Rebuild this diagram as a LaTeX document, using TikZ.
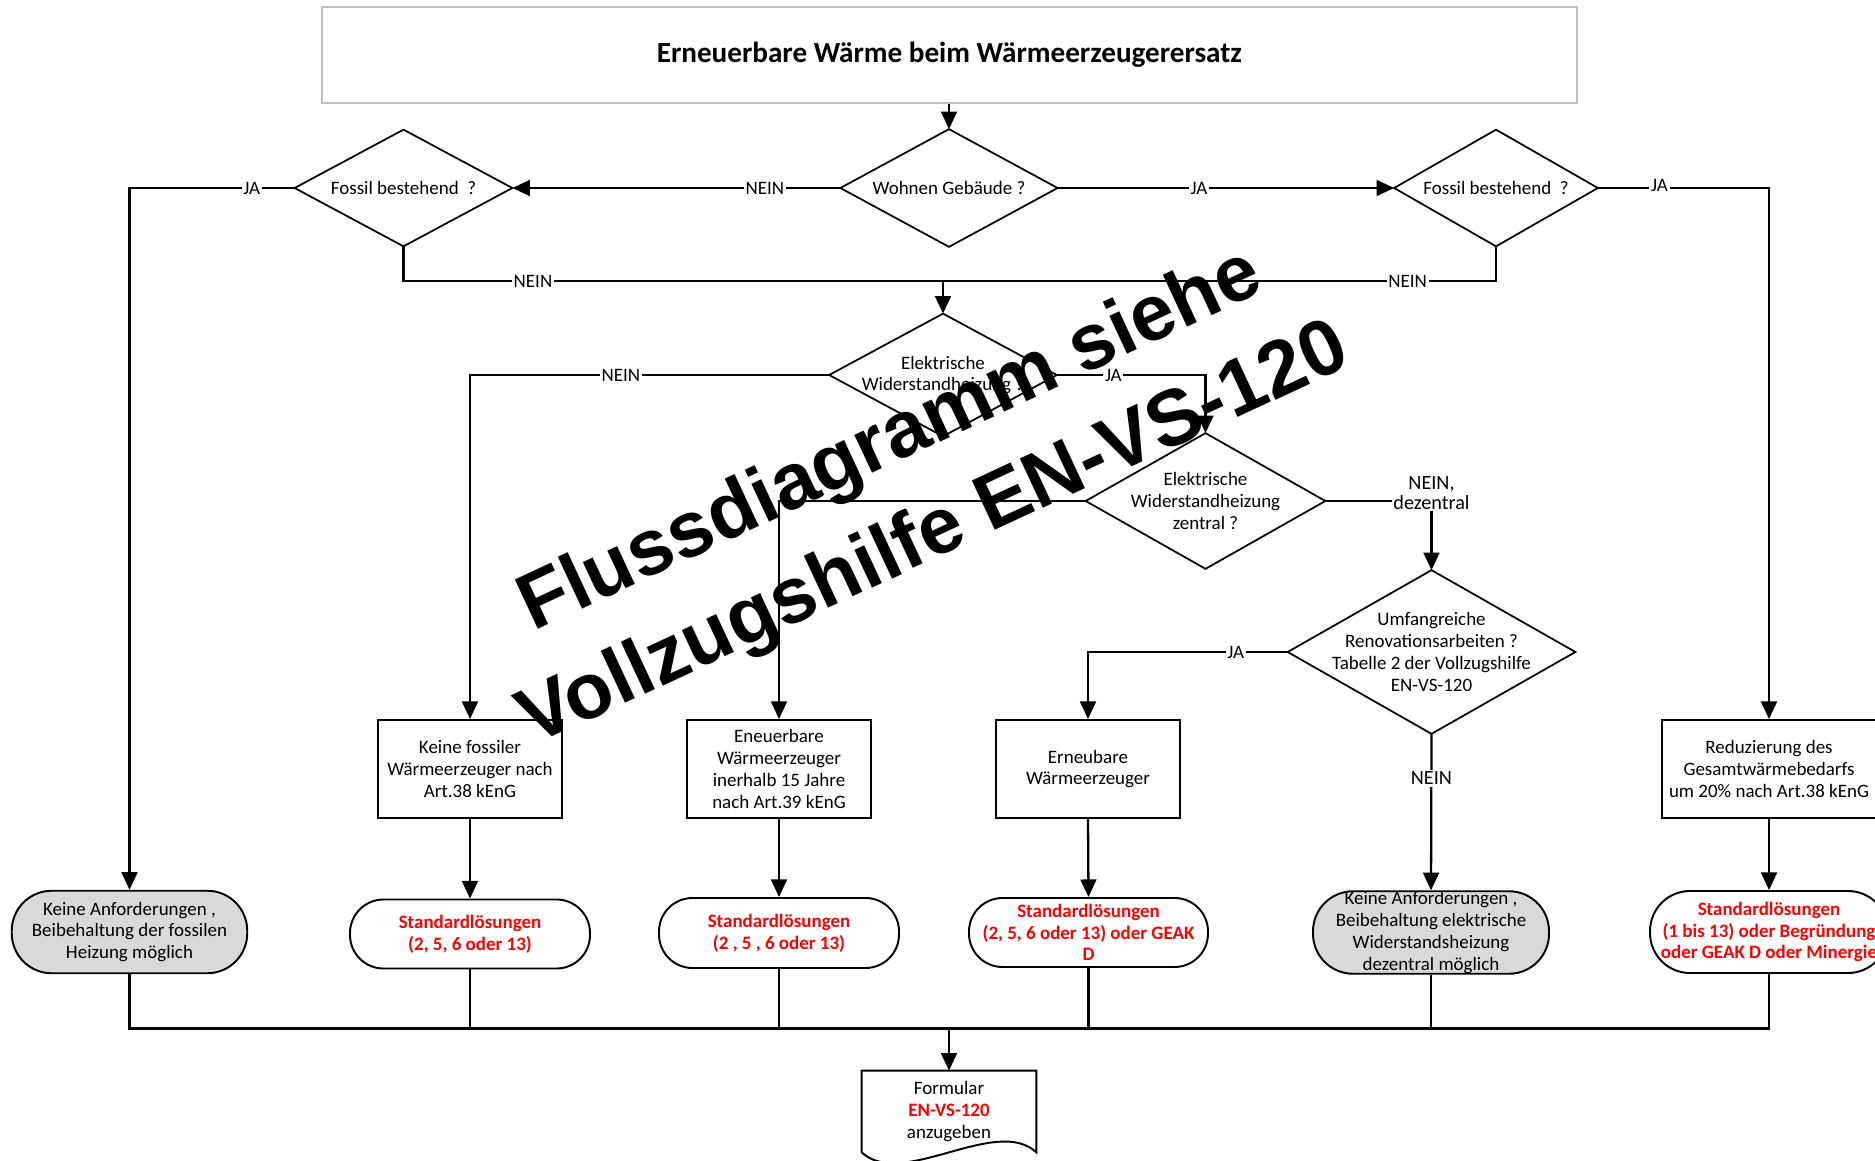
\documentclass[tikz,border=0pt]{standalone}
\usepackage{fontspec}
\setmainfont{Carlito}
\newfontfamily\watermarkfont{Liberation Sans}
\usepackage{xcolor}
\usepackage{tikz}
\definecolor{solutionred}{RGB}{255, 0, 0}
\definecolor{neutralgray}{RGB}{217, 217, 217}
\definecolor{framegray}{RGB}{191, 191, 191}
\usetikzlibrary{shapes, arrows.meta, positioning, calc}

\begin{document}
\begin{tikzpicture}[
    textfont/.style={font=\fontsize{10.8}{12.4}\selectfont},
    block/.style={rectangle, draw, line width=1.1pt, textfont, align=center, inner sep=2pt, minimum width=3.68cm, minimum height=1.96cm},
    decision/.style={rectangle, inner sep=0pt, textfont, align=center},
    decisionborder/.style={draw, line width=1pt},
    terminal/.style={rectangle, draw, line width=1.1pt, rounded corners=0.67cm, textfont, align=center, inner sep=0pt, minimum width=4.8cm, minimum height=1.38cm},
    greyterminal/.style={terminal, fill=neutralgray, rounded corners=0.8cm, minimum height=1.65cm},
    solution/.style={font=\bfseries\fontsize{10.8}{12.4}\selectfont, text=solutionred},
    connector/.style={line width=1.3pt},
    arrow/.style={-{Triangle[length=10pt, width=9pt]}, line width=1.3pt},
    answer/.style={fill=white, inner sep=1pt, textfont},
    biganswer/.style={answer, align=center, font=\fontsize{11.5}{11.5}\selectfont},
    watermark/.style={rotate=25, align=center, inner sep=0pt, font=\watermarkfont\bfseries\fontsize{45}{59}\selectfont}
]
    \useasboundingbox (0,0) rectangle (37.5,-23.22);
    \clip (0,0) rectangle (37.5,-23.22);

    % Title
    \node[rectangle, draw=framegray, line width=0.8pt, minimum width=25.1cm, minimum height=1.92cm, font=\bfseries\fontsize{16.6}{19}\selectfont] (title) at (18.99,-1.10) {Erneuerbare Wärme beim Wärmeerzeugerersatz};

    % Decisions
    \node[decision, minimum width=4.33cm, minimum height=2.34cm] (wohnen) at (18.98,-3.76) {Wohnen Gebäude ?};
    \node[decision, minimum width=4.34cm, minimum height=2.32cm] (fossilL) at (8.07,-3.76) {Fossil bestehend~ ?};
    \node[decision, minimum width=4.06cm, minimum height=2.32cm] (fossilR) at (29.92,-3.76) {Fossil bestehend~ ?};
    \node[decision, minimum width=4.54cm, minimum height=2.44cm] (elek1) at (18.86,-7.50) {Elektrische\\Widerstandheizung ?};
    \node[decision, minimum width=4.78cm, minimum height=2.70cm] (elek2) at (24.11,-10.02) {Elektrische\\Widerstandheizung\\zentral ?};
    \node[decision, minimum width=5.74cm, minimum height=3.26cm] (umf) at (28.63,-13.04) {Umfangreiche\\Renovationsarbeiten ?\\Tabelle 2 der Vollzugshilfe\\EN-VS-120};
    \foreach \raute in {wohnen, fossilL, fossilR, elek1, elek2, umf}
        \draw[decisionborder] (\raute.north) -- (\raute.east) -- (\raute.south) -- (\raute.west) -- cycle;

    % Process boxes
    \node[block] (fbox) at (9.40,-15.38) {Keine fossiler\\Wärmeerzeuger nach\\Art.38 kEnG};
    \node[block] (eneu) at (15.58,-15.38) {Eneuerbare\\Wärmeerzeuger\\inerhalb 15 Jahre\\nach Art.39 kEnG};
    \node[block] (erneu) at (21.76,-15.38) {Erneubare\\Wärmeerzeuger};
    \node[block, minimum width=4.28cm] (reduz) at (35.38,-15.38) {Reduzierung des\\Gesamtwärmebedarfs\\um 20\% nach Art.38 kEnG};

    % End states
    \node[greyterminal, minimum width=4.71cm] (keineL) at (2.59,-18.64) {Keine Anforderungen ,\\Beibehaltung der fossilen\\Heizung möglich};
    \node[terminal, solution] (std1) at (9.40,-18.68) {Standardlösungen\\(2, 5, 6 oder 13)};
    \node[terminal, solution, minimum height=1.40cm] (std2) at (15.58,-18.66) {Standardlösungen\\(2 , 5 , 6 oder 13)};
    \node[terminal, solution, minimum width=4.78cm] (std3) at (21.77,-18.65) {Standardlösungen\\(2, 5, 6 oder 13) oder GEAK\\D};
    \node[greyterminal, minimum width=4.72cm] (keineR) at (28.62,-18.65) {Keine Anforderungen ,\\Beibehaltung elektrische\\Widerstandsheizung\\dezentral möglich};
    \node[terminal, solution, minimum width=4.76cm, minimum height=1.64cm, rounded corners=0.8cm] (std4) at (35.38,-18.64) {Standardlösungen\\(1 bis 13) oder Begründung\\oder GEAK D oder Minergie};

    % Form
    \node[rectangle, minimum width=3.48cm, minimum height=1.62cm, inner sep=0pt, textfont, align=center] (formular) at (18.98,-22.23) {Formular\\\textcolor{solutionred}{\textbf{EN-VS-120}}\\anzugeben};
    \draw[decisionborder, line width=1.1pt] (formular.south west) -- (formular.north west) -- (formular.north east) -- (formular.south east) .. controls ($(formular.south east)+(-0.8,0.75)$) and ($(formular.south west)+(0.8,-0.75)$) .. (formular.south west);

    \coordinate (join) at (18.86,-5.62);
    \coordinate (sammel) at (18.98,-20.57);

    % Upper decisions
    \draw[arrow] (title.south -| wohnen.north) -- (wohnen.north);
    \draw[arrow] (wohnen.west) -- node[answer, pos=0.23] {NEIN} (fossilL.east);
    \draw[arrow] (wohnen.east) -- node[answer, pos=0.42] {JA} (fossilR.west);
    \draw[arrow] (fossilL.west) -| node[answer, pos=0.13] {JA} (keineL.north);
    \draw[arrow] (fossilR.east) -| node[answer, pos=0.18, yshift=0.06cm] {JA} (reduz.north);
    \draw[connector] (fossilL.south) |- node[answer, pos=0.62] {NEIN} (join);
    \draw[connector] (fossilR.south) |- node[answer, pos=0.58] {NEIN} (join);
    \draw[arrow] (join) -- (elek1.north);

    % Electric heating
    \draw[arrow] (elek1.west) -| node[answer, pos=0.29] {NEIN} (fbox.north);
    \draw[arrow] (elek1.east) -| node[answer, pos=0.19] {JA} (elek2.north);
    \draw[arrow] (elek2.west) -| (eneu.north);
    \draw[arrow] (elek2.east) -| node[biganswer, pos=0.5, yshift=0.16cm] {NEIN,\\dezentral} (umf.north);
    \draw[arrow] (umf.west) -| node[answer, pos=0.13] {JA} (erneu.north);
    \draw[arrow] (umf.south) -- node[biganswer, pos=0.285] {NEIN} (keineR.north);

    % Boxes to solutions
    \draw[arrow] (fbox.south) -- (std1.north);
    \draw[arrow] (eneu.south) -- (std2.north);
    \draw[arrow] (erneu.south) -- (std3.north);
    \draw[arrow] (reduz.south) -- (std4.north);

    % Collect
    \draw[connector] (keineL.south) |- (sammel);
    \draw[connector] (std4.south) |- (sammel);
    \foreach \knoten in {std1, std2, std3, keineR}
        \draw[connector] (\knoten.south) -- (\knoten.south |- sammel);
    \draw[arrow] (sammel) -- (formular.north);

    % Watermark
    \node[watermark] (hinweis) at (18.26,-9.79) {Flussdiagramm siehe\\Vollzugshilfe EN-VS-120};
\end{tikzpicture}
\end{document}
